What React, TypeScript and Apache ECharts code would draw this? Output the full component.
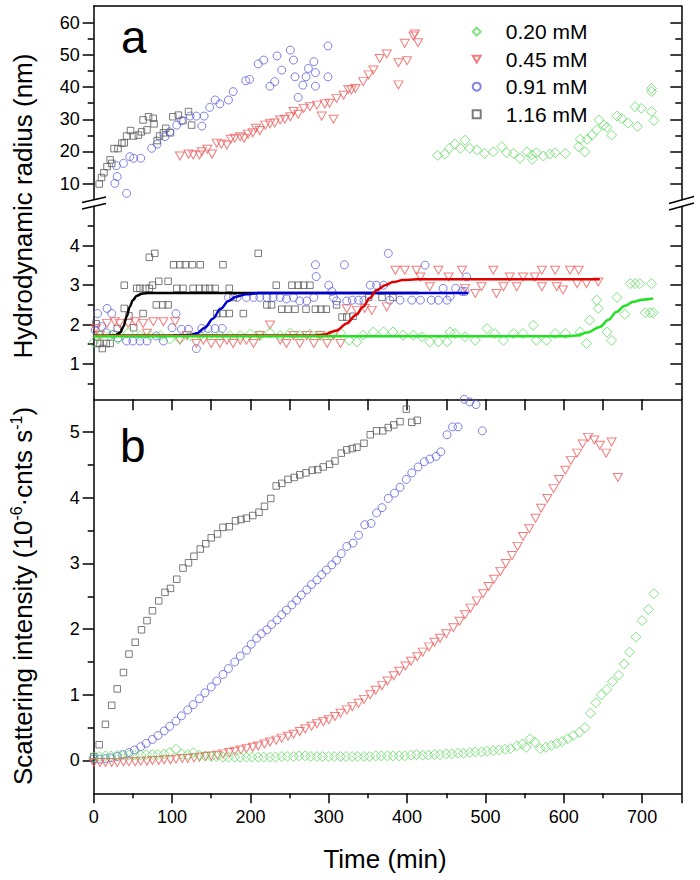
import React, { useEffect, useRef } from "react";
import * as echarts from "echarts";

const FONT = "'Liberation Sans', Arial, sans-serif";

// ---------- tick values ----------
const xMajor = [0, 100, 200, 300, 400, 500, 600, 700];
const xMajorTicks = [0, 100, 200, 300, 400, 500, 600, 700, 750];
const xMinor = [50, 150, 250, 350, 450, 550, 650];
const xTopTicks = [50, 100, 150, 200, 250, 300, 350, 400, 450, 500, 550, 600, 650, 700];
const upMajor = [10, 20, 30, 40, 50, 60];
const upMinor = [15, 25, 35, 45, 55];
const lowMajor = [1, 2, 3, 4];
const lowMinor = [0.5, 1.5, 2.5, 3.5, 4.5];
const bMajor = [0, 1, 2, 3, 4, 5];
const bMinor = [0.5, 1.5, 2.5, 3.5, 4.5];

const names = ["0.20 mM", "0.45 mM", "0.91 mM", "1.16 mM"];

// ---------- panel a, upper segment (nm) ----------
const ua116 = [[7,9.9],[10,11.9],[13,13.4],[17,15.3],[21,17.4],[23,16.3],[26,20.9],[31,20.9],[36,22.6],[39,22.7],[42,24.8],[47,26.5],[51,24.8],[57,25.1],[61,26.1],[63,29.8],[68,26.7],[70,30.8],[76,30.3],[77,28.6],[81,23.4],[84,24.8],[89,25.8],[92,27.2],[98,25.8],[101,30.8],[108,31.3],[114,29.6],[121,32.4],[125,28.2]];
const ua091 = [[27,10.1],[29,15.6],[30,12.2],[38,16.3],[42,7.0],[46,18.4],[51,17.9],[60,17.9],[74,21.0],[81,22.3],[91,24.6],[97,26.1],[106,28.2],[112,29.6],[123,31.0],[131,31.0],[138,27.9],[141,31.0],[148,33.7],[155,36.0],[161,34.8],[172,36.0],[178,38.6],[194,42.0],[199,42.4],[210,47.2],[217,48.4],[225,40.3],[231,41.7],[234,49.7],[240,45.3],[251,51.5],[255,48.4],[257,43.2],[261,36.8],[267,40.6],[271,43.2],[274,45.8],[281,47.9],[283,44.5],[283,40.3],[299,52.8],[299,43.2]];
const ua045 = [[110,18.6],[121,19.2],[127,18.9],[135,18.9],[138,19.9],[145,20.7],[151,19.2],[157,22.6],[163,22.3],[170,22.0],[175,23.8],[180,24.1],[187,24.6],[192,24.1],[197,25.4],[203,25.8],[207,27.2],[212,26.5],[219,28.2],[225,28.6],[231,28.9],[238,29.8],[244,30.0],[251,30.8],[255,32.4],[261,31.6],[268,33.4],[276,33.9],[285,34.4],[291,31.0],[295,34.8],[301,35.0],[306,30.0],[310,36.5],[319,37.5],[325,39.3],[329,39.1],[334,39.6],[344,41.7],[351,43.8],[357,45.3],[365,48.9],[374,50.3],[389,47.6],[389,40.7],[397,53.6],[400,48.2],[408,55.9],[410,56.5],[414,53.8]];
const ua020 = [[439,18.8],[448,19.2],[454,21.0],[461,22.3],[468,21.0],[474,23.5],[480,21.0],[489,20.5],[499,19.4],[510,19.9],[521,21.5],[527,19.6],[536,19.4],[544,17.9],[553,19.9],[559,18.9],[560,17.6],[565,19.6],[574,18.6],[582,19.2],[589,19.6],[602,19.4],[619,21.5],[621,23.8],[627,19.9],[630,23.8],[636,25.1],[642,26.7],[645,29.8],[651,28.2],[655,27.5],[661,25.1],[668,31.0],[674,30.3],[682,28.8],[691,33.9],[694,27.8],[699,33.4],[712,39.6],[712,38.6],[712,32.4],[715,29.6]];

// ---------- panel a, lower segment (nm) ----------
const la116 = [[3,2.02],[5,1.52],[8,1.52],[11,1.39],[16,1.52],[21,1.52],[30,1.9],[39,2.41],[39,3.0],[45,2.22],[51,1.92],[55,2.92],[59,2.92],[63,2.28],[66,2.92],[71,2.92],[71,3.71],[75,3.0],[78,3.81],[80,2.5],[83,3.1],[88,2.5],[95,3.1],[95,2.5],[102,3.52],[106,2.92],[110,3.52],[114,2.92],[117,3.52],[126,3.52],[127,2.92],[135,2.92],[136,3.52],[142,2.92],[148,2.92],[155,2.92],[157,2.28],[165,2.28],[165,3.52],[173,2.92],[173,2.28],[178,2.69],[191,2.28],[210,3.81],[221,2.5],[227,2.5],[233,3.0],[240,2.39],[248,2.39],[253,3.0],[257,2.39],[261,3.0],[268,3.0],[271,2.39],[276,3.0],[283,2.39],[290,2.39],[297,2.39],[310,2.5],[317,2.19],[323,2.19],[331,2.21],[351,2.69],[368,2.69],[382,2.69]];
const la091 = [[2,1.86],[5,2.28],[10,1.95],[16,1.79],[17,2.41],[23,2.28],[25,1.75],[31,1.66],[42,1.58],[50,1.58],[59,1.58],[68,1.58],[80,1.71],[89,1.58],[100,1.92],[105,2.28],[112,1.88],[121,1.88],[131,1.39],[138,1.9],[146,1.9],[155,1.9],[164,1.9],[172,2.69],[183,2.69],[195,2.69],[204,2.69],[212,2.69],[221,2.69],[229,2.69],[238,2.69],[246,2.65],[255,2.69],[263,2.6],[272,2.6],[281,2.69],[283,3.52],[284,3.22],[300,3.0],[304,2.84],[306,2.69],[310,2.6],[320,3.52],[323,2.6],[330,2.62],[338,2.62],[345,2.62],[353,3.0],[361,3.0],[370,3.0],[376,3.81],[378,2.62],[391,2.62],[406,2.62],[417,2.62],[423,3.51],[431,2.62],[440,2.62],[446,2.92],[451,2.62],[455,2.72],[462,2.92],[470,2.84],[474,2.84],[476,3.21]];
const la045 = [[3,1.9],[8,1.72],[17,2.03],[27,2.07],[33,2.03],[44,2.03],[53,2.07],[63,2.03],[68,1.78],[76,2.07],[89,2.07],[104,2.07],[110,1.6],[119,1.72],[131,1.52],[140,1.6],[150,1.52],[161,1.52],[170,1.6],[178,1.52],[187,1.6],[195,1.6],[204,1.52],[212,1.72],[225,1.99],[238,1.6],[246,1.52],[255,1.72],[263,1.52],[272,1.72],[281,1.52],[289,1.72],[298,1.52],[306,1.72],[315,1.52],[323,2.4],[336,2.36],[346,2.41],[355,2.36],[374,2.45],[385,3.38],[397,3.38],[412,3.38],[417,3.21],[429,2.96],[440,3.38],[453,3.21],[470,3.38],[474,2.92],[487,2.79],[495,2.96],[510,3.38],[514,2.79],[523,2.96],[531,3.21],[540,2.96],[548,3.21],[563,3.21],[572,3.38],[572,2.96],[589,3.38],[591,2.96],[599,2.88],[608,3.38],[617,3.04],[619,3.38],[629,3.04],[644,3.08]];
const la020 = [[0,1.55],[8,1.72],[21,1.72],[31,1.63],[44,1.79],[59,1.72],[72,1.72],[85,1.72],[97,1.63],[110,1.63],[123,1.72],[136,1.72],[148,1.72],[161,1.72],[174,1.72],[187,1.72],[200,1.76],[212,1.72],[225,1.79],[238,1.72],[251,1.79],[263,1.72],[276,1.76],[289,1.72],[302,1.72],[315,1.79],[326,1.6],[336,1.56],[344,1.73],[357,1.81],[370,1.81],[382,1.81],[395,1.73],[408,1.73],[419,1.69],[429,1.56],[440,1.56],[451,1.56],[455,1.81],[461,1.77],[474,1.69],[487,1.6],[502,1.9],[512,1.77],[523,1.6],[536,1.77],[548,1.77],[561,1.98],[565,1.6],[578,1.6],[589,1.77],[602,1.77],[621,1.81],[629,1.52],[633,2.11],[642,2.62],[644,2.41],[655,1.81],[661,1.6],[668,2.69],[678,2.26],[685,3.04],[691,3.04],[697,3.04],[704,2.3],[710,2.3],[712,3.04],[714,2.3]];

// ---------- fitted curves ----------
const fit116 = [[20,1.72],[28,1.73],[34,1.8],[38,1.95],[42,2.2],[46,2.45],[50,2.62],[55,2.73],[62,2.79],[70,2.8],[200,2.8],[415,2.8]];
const fit091 = [[100,1.72],[122,1.73],[132,1.78],[142,1.92],[152,2.15],[162,2.4],[172,2.6],[182,2.71],[195,2.77],[210,2.8],[350,2.8],[478,2.8]];
const fit045 = [[0,1.72],[150,1.72],[280,1.72],[295,1.75],[310,1.85],[323,2.03],[335,2.25],[344,2.45],[352,2.67],[361,2.87],[372,3.0],[382,3.08],[395,3.13],[412,3.15],[500,3.15],[646,3.15]];
const fit020 = [[0,1.7],[300,1.7],[600,1.7],[616,1.72],[630,1.8],[646,1.94],[657,2.12],[667,2.32],[678,2.48],[689,2.58],[700,2.63],[714,2.66]];

// ---------- panel b (10^-6 cnts/s) ----------
const b116 = [[0,0.06],[7,0.24],[15,0.55],[23,0.84],[30,1.09],[38,1.34],[45,1.62],[53,1.80],[61,1.99],[68,2.13],[75,2.28],[83,2.43],[91,2.56],[98,2.62],[106,2.76],[114,2.93],[121,3.01],[128,3.11],[136,3.22],[143,3.30],[150,3.39],[158,3.45],[165,3.55],[173,3.56],[181,3.65],[188,3.67],[195,3.69],[203,3.73],[211,3.78],[218,3.87],[226,3.99],[233,4.18],[240,4.22],[248,4.28],[256,4.31],[263,4.35],[271,4.38],[279,4.42],[286,4.43],[293,4.47],[301,4.51],[308,4.56],[316,4.68],[323,4.73],[330,4.75],[336,4.77],[345,4.83],[353,4.96],[361,5.02],[369,5.02],[376,5.07],[383,5.11],[391,5.16],[399,5.35],[406,5.15],[413,5.18]];
const b091 = [[0,0.02],[7,0.02],[15,0.03],[22,0.04],[30,0.06],[37,0.09],[45,0.12],[52,0.16],[60,0.21],[67,0.26],[75,0.32],[82,0.38],[90,0.45],[97,0.52],[105,0.60],[112,0.68],[120,0.77],[127,0.85],[135,0.94],[142,1.03],[150,1.12],[157,1.21],[165,1.31],[172,1.40],[180,1.50],[187,1.59],[195,1.68],[201,1.77],[208,1.86],[214,1.93],[221,1.99],[227,2.07],[234,2.14],[240,2.22],[246,2.29],[253,2.37],[259,2.44],[265,2.52],[272,2.60],[278,2.68],[285,2.75],[291,2.83],[297,2.90],[304,2.98],[310,3.05],[316,3.15],[323,3.26],[331,3.31],[338,3.43],[346,3.59],[354,3.61],[361,3.77],[368,3.85],[376,3.99],[384,4.07],[391,4.16],[399,4.28],[406,4.38],[414,4.47],[422,4.55],[429,4.59],[437,4.63],[443,4.70],[451,4.96],[458,5.08],[465,5.08],[473,5.5],[480,5.46],[488,5.42],[496,5.02]];
const b045 = [[0,-0.03],[8,-0.03],[15,-0.03],[23,-0.03],[30,-0.03],[38,-0.02],[45,-0.02],[53,-0.02],[60,-0.01],[68,-0.01],[75,0.0],[83,0.0],[90,0.01],[98,0.01],[105,0.02],[113,0.03],[120,0.03],[128,0.04],[135,0.05],[143,0.06],[150,0.07],[158,0.08],[165,0.10],[173,0.12],[180,0.14],[188,0.16],[195,0.18],[203,0.20],[210,0.22],[218,0.25],[225,0.28],[233,0.31],[240,0.34],[248,0.37],[255,0.40],[263,0.44],[270,0.48],[278,0.52],[285,0.56],[293,0.59],[300,0.62],[308,0.67],[315,0.72],[323,0.77],[330,0.82],[338,0.87],[345,0.93],[353,1.0],[360,1.07],[368,1.14],[375,1.21],[383,1.29],[390,1.36],[398,1.44],[405,1.51],[413,1.58],[420,1.65],[428,1.73],[435,1.80],[442,1.86],[450,1.93],[459,2.02],[467,2.12],[474,2.22],[481,2.32],[489,2.43],[497,2.54],[504,2.65],[511,2.76],[519,2.88],[526,3.00],[534,3.12],[541,3.26],[548,3.41],[556,3.53],[564,3.69],[571,3.84],[579,3.99],[587,4.14],[594,4.28],[602,4.42],[609,4.57],[617,4.68],[624,4.82],[631,4.92],[639,4.88],[646,4.80],[654,4.68],[661,4.85],[669,4.31]];
const b020 = [[0,0.05],[7,0.06],[15,0.07],[22,0.07],[30,0.08],[37,0.08],[45,0.08],[52,0.08],[60,0.08],[67,0.09],[75,0.09],[82,0.09],[90,0.1],[97,0.12],[105,0.17],[112,0.1],[120,0.09],[127,0.12],[135,0.08],[142,0.07],[150,0.06],[157,0.06],[165,0.05],[172,0.05],[180,0.05],[187,0.05],[195,0.05],[202,0.05],[210,0.05],[217,0.05],[225,0.05],[232,0.05],[240,0.06],[247,0.06],[255,0.06],[262,0.07],[270,0.07],[277,0.06],[285,0.06],[292,0.06],[300,0.06],[307,0.06],[315,0.06],[322,0.06],[330,0.06],[337,0.06],[345,0.06],[352,0.06],[360,0.07],[367,0.07],[375,0.07],[382,0.07],[390,0.07],[397,0.07],[405,0.08],[412,0.09],[420,0.08],[427,0.08],[435,0.09],[442,0.09],[450,0.10],[457,0.10],[465,0.11],[472,0.11],[480,0.12],[487,0.13],[495,0.13],[502,0.14],[510,0.15],[517,0.16],[525,0.17],[532,0.18],[540,0.22],[547,0.25],[552,0.20],[557,0.33],[563,0.28],[570,0.18],[577,0.20],[584,0.23],[591,0.26],[598,0.29],[605,0.33],[612,0.38],[620,0.43],[627,0.5],[634,0.72],[641,0.88],[648,1.0],[655,1.08],[662,1.2],[670,1.3],[677,1.47],[684,1.65],[692,1.88],[700,2.13],[708,2.30],[715,2.54]];

const COL = { g: "#5fdc5f", r: "#ee5c5c", b: "#6262e0", k: "#5a5a5a" };
const LINECOL = { g: "#22e022", r: "#e00000", b: "#0000cc", k: "#000000" };
const SYM = {
  g: { symbol: "diamond", size: [10, 10] },
  r: { symbol: "path://M0,0L20,0L10,17Z", size: [9, 8] },
  b: { symbol: "circle", size: 8 },
  k: { symbol: "rect", size: 6.5 },
};

const AX = { color: "#000", width: 1.5 };

function scat(name: string, key: "g" | "r" | "b" | "k", data: number[][], xi: number, yi: number) {
  return {
    type: "scatter",
    name,
    data,
    xAxisIndex: xi,
    yAxisIndex: yi,
    symbol: SYM[key].symbol,
    symbolSize: SYM[key].size,
    itemStyle: { color: "rgba(255,255,255,0)", borderColor: COL[key], borderWidth: 1 },
    emphasis: { disabled: true },
    silent: true,
    z: 2,
  };
}

function fit(key: "g" | "r" | "b" | "k", data: number[][], z: number) {
  return {
    type: "line",
    name: "fit-" + key,
    data,
    xAxisIndex: 1,
    yAxisIndex: 4,
    showSymbol: false,
    smooth: 0.35,
    smoothMonotone: "x",
    lineStyle: { color: LINECOL[key], width: 2.5 },
    silent: true,
    z,
  };
}

function yAx(grid: number, pos: string, min: number, max: number, ticks: number[], len: number, inside: boolean, line: boolean, labels?: number[]) {
  return {
    type: "value",
    gridIndex: grid,
    position: pos,
    min,
    max,
    axisLine: { show: line, onZero: false, lineStyle: AX },
    axisTick: { show: ticks.length > 0, customValues: ticks, length: len, inside, lineStyle: AX },
    axisLabel: labels
      ? { show: true, customValues: labels, fontSize: 18, fontFamily: FONT, color: "#000", margin: 14 }
      : { show: false },
    splitLine: { show: false },
  };
}

function xAx(grid: number, pos: string, ticks: number[], len: number, inside: boolean, line: boolean, labels?: number[], show = true) {
  return {
    type: "value",
    gridIndex: grid,
    position: pos,
    show,
    min: 0,
    max: 750,
    axisLine: { show: line, onZero: false, lineStyle: AX },
    axisTick: { show: ticks.length > 0, customValues: ticks, length: len, inside, lineStyle: AX },
    axisLabel: labels
      ? { show: true, customValues: labels, fontSize: 18, fontFamily: FONT, color: "#000", margin: 15 }
      : { show: false },
    splitLine: { show: false },
  };
}

export default function App() {
  const ref = useRef<HTMLDivElement>(null);
  useEffect(() => {
    if (!ref.current) return;
    const chart = echarts.init(ref.current, null, { renderer: "svg" });
    const grid = [
      { left: 93.7, right: 18.7, top: 6, height: 197 },
      { left: 93.7, right: 18.7, top: 203, height: 196.3 },
      { left: 93.7, right: 18.7, top: 399.3, height: 394 },
    ];
    const xAxis = [
      xAx(0, "top", [], 0, false, true),
      xAx(1, "bottom", [], 0, false, false, undefined, false),
      xAx(2, "bottom", xMajorTicks, 10, false, true, xMajor),
      xAx(2, "bottom", xMinor, 5, false, false),
      xAx(2, "top", xTopTicks, 11, true, true),
    ];
    const yAxis = [
      yAx(0, "left", 4, 65.2, upMajor, 11, false, true, upMajor),
      yAx(0, "left", 4, 65.2, upMinor, 6, false, false),
      yAx(0, "right", 4, 65.2, upMajor, 11, true, true),
      yAx(0, "right", 4, 65.2, upMinor, 6, true, false),
      yAx(1, "left", 0.1, 5.09, lowMajor, 11, false, true, lowMajor),
      yAx(1, "left", 0.1, 5.09, lowMinor, 6, false, false),
      yAx(1, "right", 0.1, 5.09, lowMajor, 11, true, true),
      yAx(1, "right", 0.1, 5.09, lowMinor, 6, true, false),
      yAx(2, "left", -0.5, 5.5, bMajor, 11, false, true, bMajor),
      yAx(2, "left", -0.5, 5.5, bMinor, 6, false, false),
      yAx(2, "right", -0.5, 5.5, [], 0, false, true),
    ];
    const series: any[] = [
      scat(names[3], "k", ua116, 0, 0),
      scat(names[2], "b", ua091, 0, 0),
      scat(names[1], "r", ua045, 0, 0),
      scat(names[0], "g", ua020, 0, 0),
      scat(names[3], "k", la116, 1, 4),
      scat(names[2], "b", la091, 1, 4),
      scat(names[1], "r", la045, 1, 4),
      scat(names[0], "g", la020, 1, 4),
      fit("k", fit116, 3),
      fit("b", fit091, 4),
      fit("r", fit045, 5),
      fit("g", fit020, 6),
      scat(names[3], "k", b116, 2, 8),
      scat(names[2], "b", b091, 2, 8),
      scat(names[1], "r", b045, 2, 8),
      scat(names[0], "g", b020, 2, 8),
    ];
    const brk = (pts: number[][]) => ({
      type: "polyline",
      shape: { points: pts },
      style: { stroke: "#000", lineWidth: 1.5, fill: null },
      z: 100,
    });
    const graphic: any[] = [
      { type: "polygon", shape: { points: [[82, 202.5], [106, 197], [106, 203.5], [82, 209]] }, style: { fill: "#fff" }, z: 99 },
      brk([[82, 202.5], [106, 197]]),
      brk([[82, 209], [106, 203.5]]),
      { type: "polygon", shape: { points: [[669, 203.5], [694, 196.5], [694, 203], [669, 210]] }, style: { fill: "#fff" }, z: 99 },
      brk([[669, 203.5], [694, 196.5]]),
      brk([[669, 210], [694, 203]]),
      { type: "text", x: 121, y: 60, style: { text: "a", font: `46px ${FONT}`, fill: "#000", verticalAlign: "bottom" }, z: 100 },
      { type: "text", x: 120, y: 469, style: { text: "b", font: `46px ${FONT}`, fill: "#000", verticalAlign: "bottom" }, z: 100 },
      {
        type: "text", x: 23, y: 206, rotation: Math.PI / 2,
        style: { text: "Hydrodynamic radius (nm)", font: `26px ${FONT}`, fill: "#000", align: "center", verticalAlign: "middle" },
        z: 100,
      },
      {
        type: "text", x: 23, y: 596, rotation: Math.PI / 2,
        style: {
          text: "{n|Scattering intensity (10}{s|-6}{n|·cnts s}{s|-1}{n|)}",
          align: "center", verticalAlign: "middle",
          rich: {
            n: { fontSize: 26, fontFamily: FONT, fill: "#000", lineHeight: 30 },
            s: { fontSize: 16, fontFamily: FONT, fill: "#000", lineHeight: 14, verticalAlign: "top" },
          },
        },
        z: 100,
      },
      {
        type: "text", x: 385, y: 859,
        style: { text: "Time (min)", font: `26px ${FONT}`, fill: "#000", align: "center", verticalAlign: "middle" },
        z: 100,
      },
    ];
    chart.setOption({
      animation: false,
      backgroundColor: "#fff",
      grid,
      xAxis,
      yAxis,
      legend: {
        data: names,
        orient: "vertical",
        left: 466.7,
        top: 15.7,
        itemWidth: 8,
        itemHeight: 8,
        itemGap: 5.5,
        selectedMode: false,
        formatter: (n: string) => `{t|${n}}`,
        textStyle: {
          fontSize: 21, fontFamily: FONT, color: "#000", lineHeight: 22,
          rich: { t: { fontSize: 21, fontFamily: FONT, color: "#000", lineHeight: 22, padding: [0, 0, 0, 20] } },
        },
      },
      series,
      graphic,
    });
    return () => chart.dispose();
  }, []);
  return <div ref={ref} style={{ position: "fixed", left: 0, top: 0, width: 700, height: 880 }} />;
}
